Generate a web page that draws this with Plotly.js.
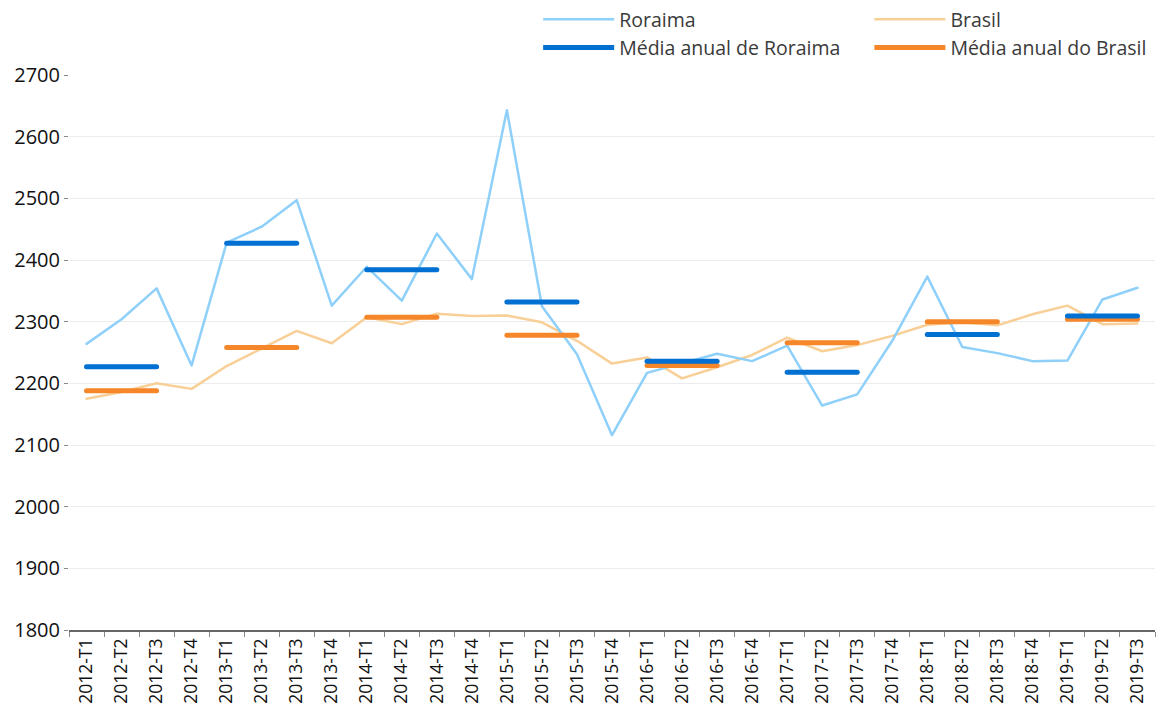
<!DOCTYPE html>
<html>
<head>
<meta charset="utf-8">
<script src="https://cdn.plot.ly/plotly-3.0.1.min.js"></script>
<style>
html,body{margin:0;padding:0;background:#fff;}
#chart{width:1156px;height:710px;}
.scatterlayer .js-line{stroke-linecap:round;stroke-linejoin:round;}
</style>
</head>
<body>
<div id="chart"></div>
<script>
const quarters = [
  "2012-T1","2012-T2","2012-T3","2012-T4",
  "2013-T1","2013-T2","2013-T3","2013-T4",
  "2014-T1","2014-T2","2014-T3","2014-T4",
  "2015-T1","2015-T2","2015-T3","2015-T4",
  "2016-T1","2016-T2","2016-T3","2016-T4",
  "2017-T1","2017-T2","2017-T3","2017-T4",
  "2018-T1","2018-T2","2018-T3","2018-T4",
  "2019-T1","2019-T2","2019-T3"
];
const roraima = [
  2264, 2304, 2354, 2229,
  2428, 2454, 2497, 2326,
  2389, 2334, 2443, 2369,
  2643, 2325, 2247, 2116,
  2217, 2232, 2248, 2236,
  2261, 2164, 2182, 2269,
  2373, 2259, 2249, 2236,
  2237, 2336, 2355
];
const brasil = [
  2175, 2186, 2200, 2191,
  2228, 2256, 2285, 2265,
  2307, 2296, 2313, 2309,
  2310, 2299, 2269, 2232,
  2242, 2208, 2226, 2246,
  2274, 2252, 2262, 2277,
  2295, 2299, 2294, 2312,
  2326, 2296, 2297
];
const years = ["2012","2013","2014","2015","2016","2017","2018","2019"];
const roraimaMean = [2227, 2427, 2384, 2332, 2236, 2218, 2279, 2309];
const brasilMean  = [2188, 2258, 2307, 2278, 2229, 2266, 2300, 2304];

function meanSegments(means){
  const x = [], y = [];
  years.forEach((yr, i) => {
    x.push(yr + "-T1", yr + "-T3", yr + "-T3");
    y.push(means[i], means[i], null);
  });
  return {x, y};
}
const rm = meanSegments(roraimaMean);
const bm = meanSegments(brasilMean);

const FONT = "'Open Sans', Lato, sans-serif";
const legendFont = {family: FONT, size: 19.5, color: "#3a3a3a"};

const traces = [
  {x: quarters, y: brasil, type: "scatter", mode: "lines", name: "Brasil",
   line: {color: "#f8cf96", width: 2.5}, legend: "legend2"},
  {x: quarters, y: roraima, type: "scatter", mode: "lines", name: "Roraima",
   line: {color: "#8fd0fa", width: 2.5}, legend: "legend"},
  {x: bm.x, y: bm.y, type: "scatter", mode: "lines", name: "Média anual do Brasil",
   line: {color: "#f5862a", width: 5}, connectgaps: false, legend: "legend2"},
  {x: rm.x, y: rm.y, type: "scatter", mode: "lines", name: "Média anual de Roraima",
   line: {color: "#0070d2", width: 5}, connectgaps: false, legend: "legend"}
];

const layout = {
  width: 1156, height: 710,
  margin: {l: 69, r: 1, t: 74, b: 80},
  paper_bgcolor: "#fff", plot_bgcolor: "#fff",
  font: {family: FONT, color: "#111"},
  showlegend: true,
  legend: {x: 0.432, xanchor: "left", y: 1.133, yanchor: "top", orientation: "v",
           font: legendFont, itemwidth: 71, bgcolor: "rgba(0,0,0,0)", traceorder: "normal"},
  legend2: {x: 0.737, xanchor: "left", y: 1.133, yanchor: "top", orientation: "v",
           font: legendFont, itemwidth: 71, bgcolor: "rgba(0,0,0,0)", traceorder: "normal"},
  xaxis: {
    type: "category", categoryorder: "array", categoryarray: quarters,
    tickangle: -90, tickson: "boundaries", ticks: "outside", ticklen: 5,
    tickcolor: "#888", showline: true, linecolor: "#666", linewidth: 1.5,
    showgrid: false, zeroline: false,
    tickfont: {family: FONT, size: 17.5, color: "#111"},
    range: [-0.5, quarters.length - 0.5]
  },
  yaxis: {
    range: [1800, 2700], tickvals: [1800,1900,2000,2100,2200,2300,2400,2500,2600,2700],
    ticks: "outside", ticklen: 4, tickcolor: "#888", showline: false,
    showgrid: true, gridcolor: "#ececec", gridwidth: 1, zeroline: false,
    tickfont: {family: FONT, size: 20, color: "#111"}
  }
};

Plotly.newPlot("chart", traces, layout, {displayModeBar: false, staticPlot: true});
</script>
</body>
</html>
